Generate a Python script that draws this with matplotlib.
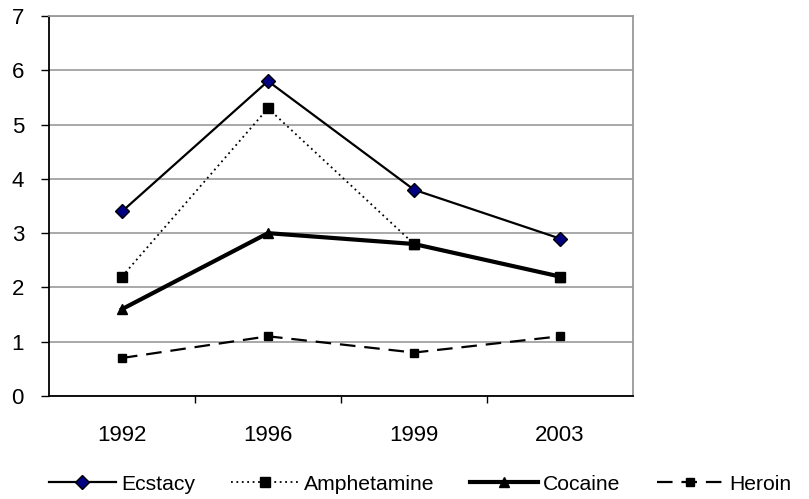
import matplotlib

matplotlib.use('Agg')
import matplotlib.pyplot as plt

plt.rcParams['font.family'] = ['Liberation Sans', 'DejaVu Sans']

# --- data ---
years = ['1992', '1996', '1999', '2003']
ecstacy = [3.4, 5.8, 3.8, 2.9]
amphetamine = [2.2, 5.3, 2.8, 2.2]
cocaine = [1.6, 3.0, 2.8, 2.2]
heroin = [0.7, 1.1, 0.8, 1.1]

fig = plt.figure(figsize=(8.09, 4.99), dpi=100)
ax = fig.add_axes([49 / 809, 1 - 396 / 499, (633 - 49) / 809, (396 - 16) / 499])

x = list(range(len(years)))
ax.plot(x, heroin, color='black', lw=1.6, ls=(0, (7, 4)), marker='s', ms=6,
        mfc='black', mec='black', label='Heroin', zorder=3)
ax.plot(x, cocaine, color='black', lw=3, marker='^', ms=7,
        mfc='black', mec='black', label='Cocaine', zorder=4)
ax.plot(x, amphetamine, color='black', lw=1.3, ls=(0, (1, 2)), marker='s', ms=7,
        mfc='black', mec='black', label='Amphetamine', zorder=5)
ax.plot(x, ecstacy, color='black', lw=1.6, marker='D', ms=7,
        mfc='#000080', mec='black', mew=1, label='Ecstacy', zorder=6)

ax.set_xlim(-0.5, len(years) - 0.5)
ax.set_ylim(0, 7)
ax.set_yticks(range(0, 8))
ax.yaxis.grid(True, color='#999999', lw=1.2)
ax.set_axisbelow(True)

# category labels sit between the boundary ticks
ax.set_xticks([i + 0.5 for i in range(len(years) - 1)])
ax.set_xticklabels([])
ax.set_xticks(x, minor=True)
ax.set_xticklabels(years, minor=True)
ax.tick_params(axis='x', which='major', direction='out', length=5, width=1, color='black')
ax.tick_params(axis='x', which='minor', length=0, pad=21, labelsize=16)
ax.tick_params(axis='y', direction='out', length=6, width=1, labelsize=16, pad=12)

ax.spines['left'].set_color('black')
ax.spines['bottom'].set_color('black')
ax.spines['top'].set_color('#999999')
ax.spines['right'].set_color('#999999')
for s in ax.spines.values():
    s.set_linewidth(1.3)

handles, labels = ax.get_legend_handles_labels()
order = [3, 2, 1, 0]
fig.legend([handles[i] for i in order], [labels[i] for i in order],
           loc='center', bbox_to_anchor=(420 / 809, 1 - 484 / 499), ncol=4,
           frameon=False, fontsize=15.2, handlelength=3.2, handletextpad=0.25,
           columnspacing=1.7, borderpad=0.1)

fig.savefig('out.png', dpi=100)
plt.close(fig)
